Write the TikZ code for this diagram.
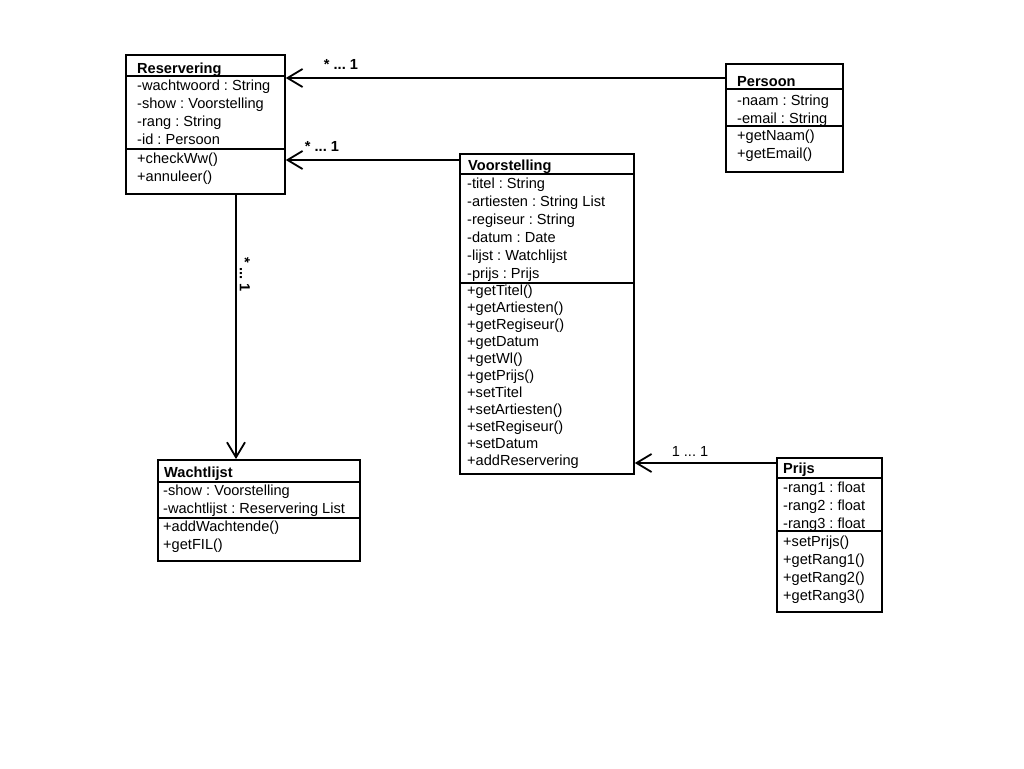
\documentclass[tikz,border=0pt]{standalone}
\usepackage{fontspec}
\setmainfont{Liberation Sans}
\usetikzlibrary{arrows.meta}

\tikzset{
    classbox/.style={draw, line width=1.8pt, anchor=north west, inner sep=0pt},
    sepline/.style={line width=1.6pt},
    member/.style={anchor=base west, inner sep=0pt, font=\fontsize{14.6}{18}\selectfont},
    classname/.style={member, font=\fontsize{14.6}{18}\selectfont\bfseries},
    assoc/.style={line width=1.8pt, -{Straight Barb[length=15pt,width=18pt,line width=1.8pt]}},
    mult/.style={inner sep=0pt, font=\fontsize{14.6}{18}\selectfont\bfseries}
}

\begin{document}
\frenchspacing
\begin{tikzpicture}[x=1pt,y=-1pt]
    \useasboundingbox (0,0) rectangle (1024,768);

    % Reservering
    \node[classbox, minimum width=159pt, minimum height=139pt] (reservering) at (125,54) {};
    \draw[sepline] (reservering.west |- 0,76) -- (reservering.east |- 0,76);
    \draw[sepline] (reservering.west |- 0,149) -- (reservering.east |- 0,149);
    \node[classname] (res-name) at (137,73) {Reservering};
    \foreach \t [count=\i from 0] in {-wachtwoord : String, -show : Voorstelling, -rang : String, -id : Persoon} {
        \node[member] (res-a\i) at (137,90+18*\i) {\t};
    }
    \foreach \t [count=\i from 0] in {+checkWw(), +annuleer()} {
        \node[member] (res-m\i) at (137,163+18*\i) {\t};
    }

    % Persoon
    \node[classbox, minimum width=117pt, minimum height=108pt] (persoon) at (725,63) {};
    \draw[sepline] (persoon.west |- 0,89) -- (persoon.east |- 0,89);
    \draw[sepline] (persoon.west |- 0,126) -- (persoon.east |- 0,126);
    \node[classname] (pers-name) at (737,86) {Persoon};
    \foreach \t [count=\i from 0] in {-naam : String, -email : String} {
        \node[member] (pers-a\i) at (737,105+18*\i) {\t};
    }
    \foreach \t [count=\i from 0] in {+getNaam(), +getEmail()} {
        \node[member] (pers-m\i) at (737,140+18*\i) {\t};
    }

    % Voorstelling
    \node[classbox, minimum width=174pt, minimum height=320pt] (voorstelling) at (459,153) {};
    \draw[sepline] (voorstelling.west |- 0,174) -- (voorstelling.east |- 0,174);
    \draw[sepline] (voorstelling.west |- 0,283) -- (voorstelling.east |- 0,283);
    \node[classname] (voor-name) at (468,170) {Voorstelling};
    \foreach \t [count=\i from 0] in {-titel : String, -artiesten : String List, -regiseur : String,
        -datum : Date, -lijst : Watchlijst, -prijs : Prijs} {
        \node[member] (voor-a\i) at (467,188+18*\i) {\t};
    }
    \foreach \t [count=\i from 0] in {+getTitel(), +getArtiesten(), +getRegiseur(), +getDatum, +getWl(),
        +getPrijs(), +setTitel, +setArtiesten(), +setRegiseur(), +setDatum, +addReservering} {
        \node[member] (voor-m\i) at (467,295+17*\i) {\t};
    }

    % Wachtlijst
    \node[classbox, minimum width=202pt, minimum height=101pt] (wachtlijst) at (157,459) {};
    \draw[sepline] (wachtlijst.west |- 0,482) -- (wachtlijst.east |- 0,482);
    \draw[sepline] (wachtlijst.west |- 0,518) -- (wachtlijst.east |- 0,518);
    \node[classname] (wacht-name) at (164,477) {Wachtlijst};
    \foreach \t [count=\i from 0] in {-show : Voorstelling, -wachtlijst : Reservering List} {
        \node[member] (wacht-a\i) at (163,495+18*\i) {\t};
    }
    \foreach \t [count=\i from 0] in {+addWachtende(), +getFIL()} {
        \node[member] (wacht-m\i) at (163,531+18*\i) {\t};
    }

    % Prijs
    \node[classbox, minimum width=105pt, minimum height=154pt] (prijs) at (776,457) {};
    \draw[sepline] (prijs.west |- 0,478) -- (prijs.east |- 0,478);
    \draw[sepline] (prijs.west |- 0,531) -- (prijs.east |- 0,531);
    \node[classname] (prijs-name) at (783,473) {Prijs};
    \foreach \t [count=\i from 0] in {-rang1 : float, -rang2 : float, -rang3 : float} {
        \node[member] (prijs-a\i) at (783,492+18*\i) {\t};
    }
    \foreach \t [count=\i from 0] in {+setPrijs(), +getRang1(), +getRang2(), +getRang3()} {
        \node[member] (prijs-m\i) at (783,546+18*\i) {\t};
    }

    % associations
    \draw[assoc] (persoon.west |- 0,78) -- (reservering.east |- 0,78);
    \draw[assoc] (voorstelling.west |- 0,160) -- (reservering.east |- 0,160);
    \draw[assoc] (236,0 |- reservering.south) -- (236,0 |- wachtlijst.north);
    \draw[assoc] (prijs.west |- 0,463) -- (voorstelling.east |- 0,463);

    % multiplicities
    \node[mult] (mult-pers) at (341,64) {* ... 1};
    \node[mult] (mult-voor) at (322,146) {* ... 1};
    \node[mult, rotate=-90] (mult-wacht) at (245,275) {* ... 1};
    \node[mult, font=\fontsize{14.6}{18}\selectfont] (mult-prijs) at (690,451) {1 ... 1};
\end{tikzpicture}
\end{document}
